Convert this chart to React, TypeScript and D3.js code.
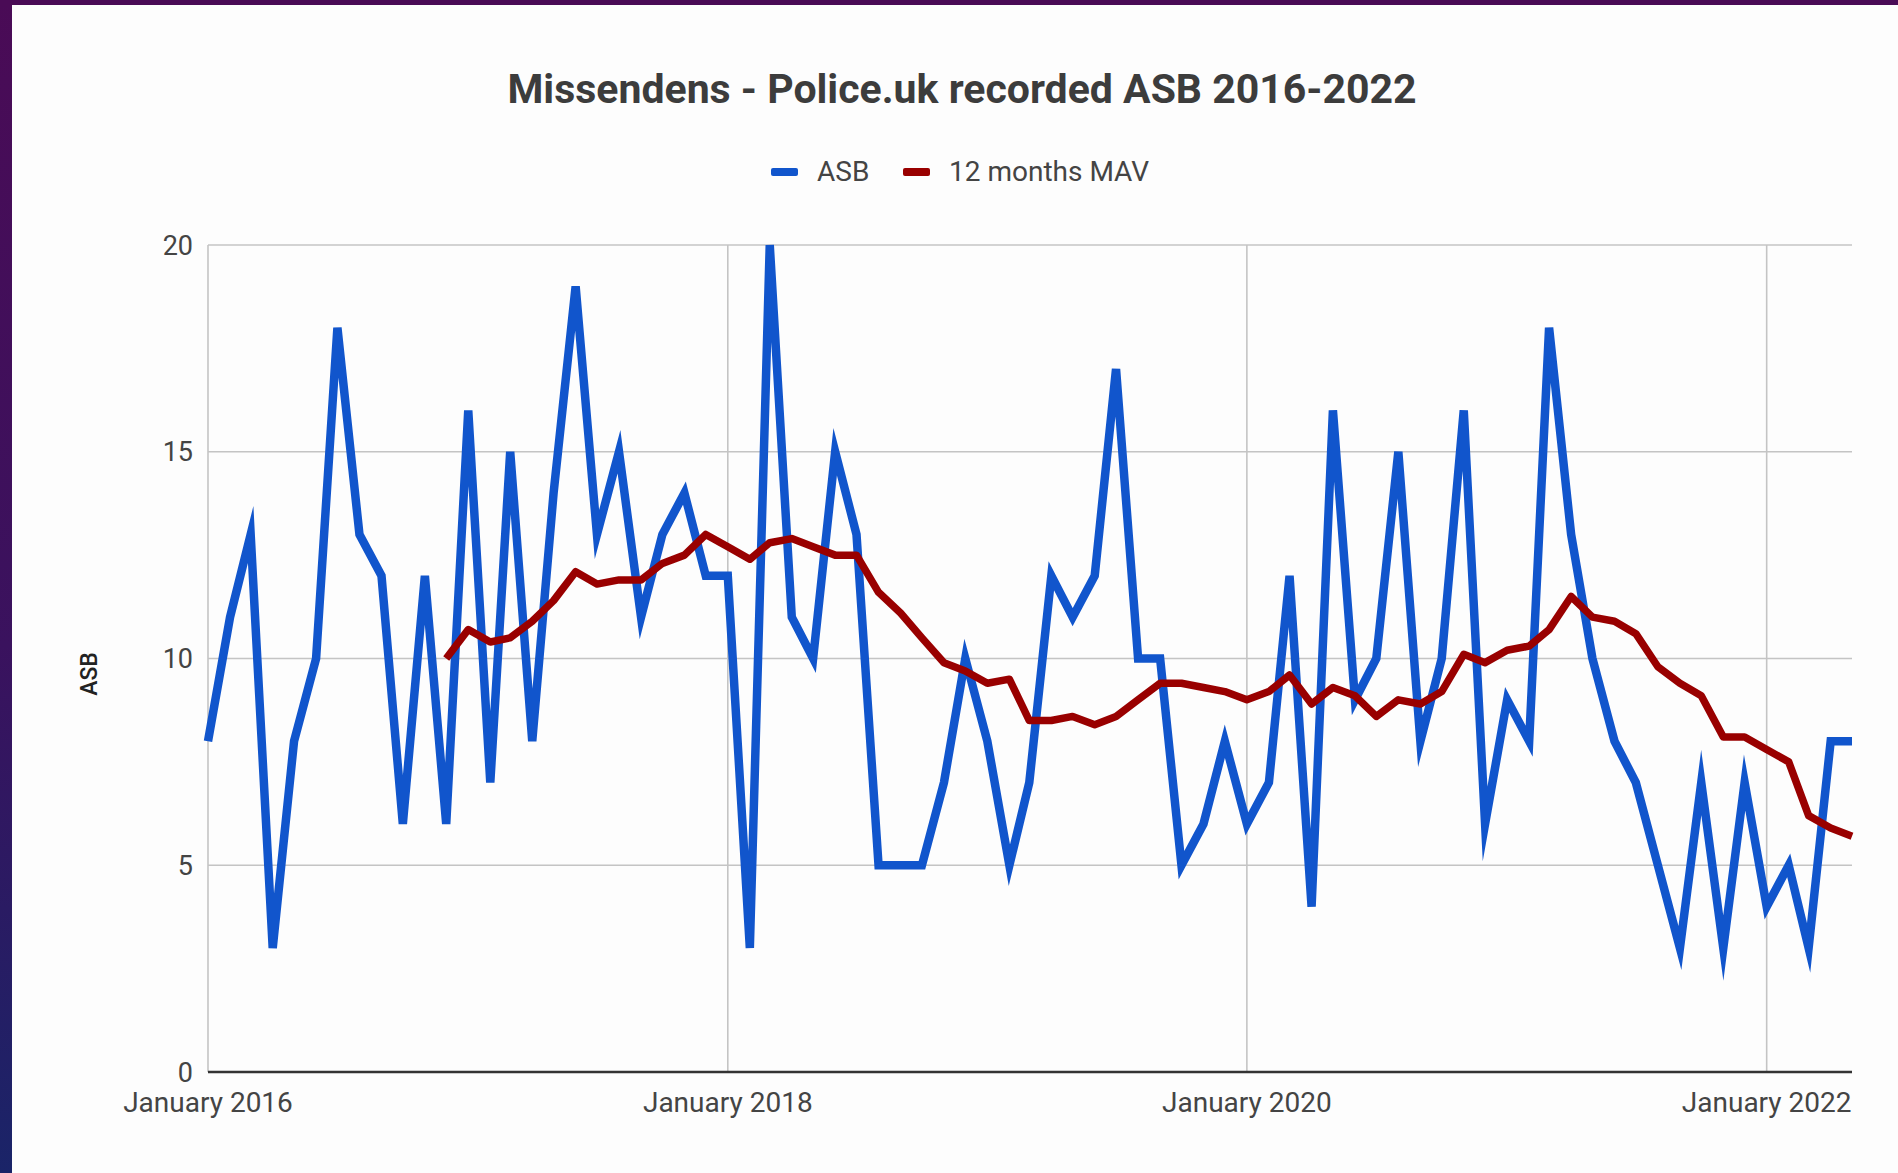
import { useEffect, useRef } from 'react'
import * as d3 from 'd3'

const W = 1898
const H = 1173

const chartTitle = 'Missendens - Police.uk recorded ASB 2016-2022'
const yAxisTitle = 'ASB'
const seriesNames = ['ASB', '12 months MAV']
const seriesColors = ['#1155cc', '#990000']

// monthly recorded ASB, January 2016 .. May 2022
const asb = [
  8, 11, 13, 3, 8, 10, 18, 13, 12, 6, 12, 6,
  16, 7, 15, 8, 14, 19, 13, 15, 11, 13, 14, 12,
  12, 3, 20, 11, 10, 15, 13, 5, 5, 5, 7, 10,
  8, 5, 7, 12, 11, 12, 17, 10, 10, 5, 6, 8,
  6, 7, 12, 4, 16, 9, 10, 15, 8, 10, 16, 6,
  9, 8, 18, 13, 10, 8, 7, 5, 3, 7, 3, 7,
  4, 5, 3, 8, 8,
]

// 12 months moving average, first value at December 2016
const mavStart = 11
const mav = [
  10.0, 10.7, 10.4, 10.5, 10.9, 11.4, 12.1, 11.8, 11.9, 11.9, 12.3, 12.5,
  13.0, 12.7, 12.4, 12.8, 12.9, 12.7, 12.5, 12.5, 11.6, 11.1, 10.5, 9.9,
  9.7, 9.4, 9.5, 8.5, 8.5, 8.6, 8.4, 8.6, 9.0, 9.4, 9.4, 9.3,
  9.2, 9.0, 9.2, 9.6, 8.9, 9.3, 9.1, 8.6, 9.0, 8.9, 9.2, 10.1,
  9.9, 10.2, 10.3, 10.7, 11.5, 11.0, 10.9, 10.6, 9.8, 9.4, 9.1, 8.1,
  8.1, 7.8, 7.5, 6.2, 5.9, 5.7,
]

const yTicks = [0, 5, 10, 15, 20]
const xTickDates = [new Date(2016, 0, 1), new Date(2018, 0, 1), new Date(2020, 0, 1), new Date(2022, 0, 1)]
const xTickLabels = ['January 2016', 'January 2018', 'January 2020', 'January 2022']

const months = d3.timeMonth.range(new Date(2016, 0, 1), new Date(2022, 5, 1))

export default function App() {
  const svgRef = useRef<SVGSVGElement>(null)

  useEffect(() => {
    if (!svgRef.current) return
    const svg = d3.select(svgRef.current)
    svg.selectAll('*').remove()

    const plot = { left: 208, right: 1852, top: 245, bottom: 1072 }

    const x = d3.scaleTime()
      .domain([months[0], months[months.length - 1]])
      .range([plot.left, plot.right])
    const y = d3.scaleLinear().domain([0, 20]).range([plot.bottom, plot.top])

    // frame of the screenshot
    const defs = svg.append('defs')
    const grad = defs.append('linearGradient')
      .attr('id', 'edge').attr('x1', 0).attr('y1', 0).attr('x2', 0).attr('y2', 1)
    grad.append('stop').attr('offset', '0%').attr('stop-color', '#4a0b56')
    grad.append('stop').attr('offset', '55%').attr('stop-color', '#3a125e')
    grad.append('stop').attr('offset', '100%').attr('stop-color', '#1a2468')

    svg.append('rect').attr('width', W).attr('height', H).attr('fill', '#fdfdfd')
    svg.append('rect').attr('width', 12).attr('height', H).attr('fill', 'url(#edge)')
    svg.append('rect').attr('width', W).attr('height', 5).attr('fill', '#4a0b56')

    // title
    svg.append('text')
      .attr('x', 962).attr('y', 103)
      .attr('text-anchor', 'middle')
      .style('font-family', 'Roboto')
      .style('font-weight', 700)
      .style('font-size', '41px')
      .style('fill', '#3c3c3c')
      .text(chartTitle)

    // legend
    const legendX = [771, 903]
    seriesNames.forEach((name, i) => {
      svg.append('rect')
        .attr('x', legendX[i]).attr('y', 168)
        .attr('width', 27).attr('height', 8).attr('rx', 2)
        .attr('fill', seriesColors[i])
      svg.append('text')
        .attr('x', legendX[i] + 46).attr('y', 181)
        .style('font-family', 'Roboto')
        .style('font-size', '28px')
        .style('fill', '#444')
        .text(name)
    })

    // grid
    const g = svg.append('g')
    g.selectAll('.hgrid')
      .data(yTicks.filter(d => d > 0))
      .enter().append('line')
      .attr('x1', plot.left).attr('x2', plot.right)
      .attr('y1', d => y(d)).attr('y2', d => y(d))
      .attr('stroke', '#c4c4c4').attr('stroke-width', 1.6)

    g.selectAll('.vgrid')
      .data(xTickDates)
      .enter().append('line')
      .attr('x1', d => x(d)).attr('x2', d => x(d))
      .attr('y1', plot.top).attr('y2', plot.bottom)
      .attr('stroke', '#c4c4c4').attr('stroke-width', 1.6)

    // y tick labels
    g.selectAll('.ylab')
      .data(yTicks)
      .enter().append('text')
      .attr('x', 193).attr('y', d => y(d))
      .attr('dy', '0.36em')
      .attr('text-anchor', 'end')
      .style('font-family', 'Roboto')
      .style('font-size', '27px')
      .style('fill', '#444')
      .text(d => d)

    // x tick labels
    g.selectAll('.xlab')
      .data(xTickDates)
      .enter().append('text')
      .attr('x', d => x(d)).attr('y', 1112)
      .attr('text-anchor', 'middle')
      .style('font-family', 'Roboto')
      .style('font-size', '28px')
      .style('fill', '#444')
      .text((d, i) => xTickLabels[i])

    // y axis title
    svg.append('text')
      .attr('transform', 'translate(97, 674) rotate(-90)')
      .attr('text-anchor', 'middle')
      .style('font-family', 'Roboto')
      .style('font-weight', 500)
      .style('font-size', '23px')
      .style('fill', '#222')
      .text(yAxisTitle)

    // baseline
    g.append('line')
      .attr('x1', plot.left).attr('x2', plot.right)
      .attr('y1', y(0)).attr('y2', y(0))
      .attr('stroke', '#333').attr('stroke-width', 2.6)

    // series
    const line = d3.line<number | null>()
      .defined(d => d != null)
      .x((d, i) => x(months[i]))
      .y(d => y(d as number))

    g.append('path')
      .datum(asb)
      .attr('d', line)
      .attr('fill', 'none')
      .attr('stroke', seriesColors[0])
      .attr('stroke-width', 8.5)
      .attr('stroke-linejoin', 'miter')
      .attr('stroke-miterlimit', 10)

    const mavFull: (number | null)[] = months.map((m, i) => (i < mavStart ? null : mav[i - mavStart]))
    g.append('path')
      .datum(mavFull)
      .attr('d', line)
      .attr('fill', 'none')
      .attr('stroke', seriesColors[1])
      .attr('stroke-width', 7.5)
      .attr('stroke-linejoin', 'round')
  }, [])

  return (
    <svg
      ref={svgRef}
      width={W}
      height={H}
      style={{ position: 'absolute', left: 0, top: 0, display: 'block' }}
    />
  )
}
